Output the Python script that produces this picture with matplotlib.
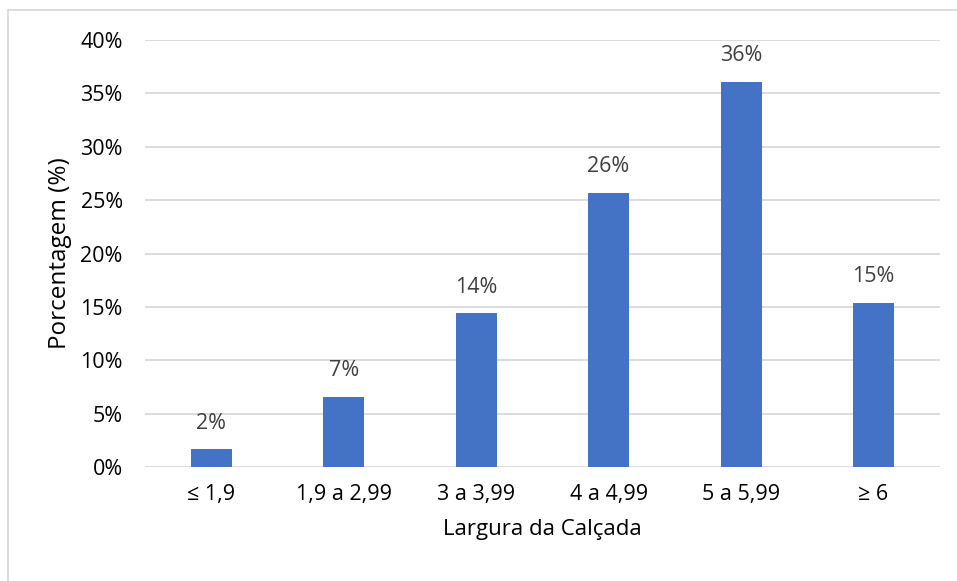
import matplotlib.pyplot as plt
from matplotlib.patches import Rectangle

categories = ["≤ 1,9", "1,9 a 2,99", "3 a 3,99", "4 a 4,99", "5 a 5,99", "≥ 6"]
values = [1.7, 6.6, 14.4, 25.7, 36.1, 15.4]
labels = ["2%", "7%", "14%", "26%", "36%", "15%"]
yticks = [0, 5, 10, 15, 20, 25, 30, 35, 40]

plt.rcParams["font.family"] = ["Open Sans", "DejaVu Sans"]

fig = plt.figure(figsize=(9.57, 5.81), dpi=100)
ax = fig.add_axes([0.1515, 0.1962, 0.8305, 0.7348])

x = range(len(categories))
bars = ax.bar(x, values, width=0.31, color="#4472C4", zorder=3)

for i, v in enumerate(values):
    ax.annotate(labels[i], (i, v), xytext=(0, 11), textcoords="offset points",
                ha="center", va="bottom", fontsize=15.5, color="#404040")

ax.set_xlim(-0.5, len(categories) - 0.5)
ax.set_ylim(0, 40)
ax.set_yticks(yticks)
ax.set_yticklabels([f"{t}%" for t in yticks])
ax.set_xticks(list(x))
ax.set_xticklabels(categories)
ax.tick_params(axis="both", length=0, labelsize=15.5, colors="#000000")
ax.tick_params(axis="y", pad=16)
ax.tick_params(axis="x", pad=12)
ax.grid(axis="y", color="#d9d9d9", linewidth=1.3, zorder=0)
for s in ax.spines.values():
    s.set_visible(False)

ax.set_xlabel("Largura da Calçada", fontsize=16, labelpad=10)
ax.set_ylabel("Porcentagem (%)", fontsize=17.5, labelpad=6)

# chart border (only left/top visible)
fig.patches.append(Rectangle((8 / 957, -0.1), 1.2, 1.1 - 10 / 581,
                             transform=fig.transFigure, fill=False,
                             edgecolor="#d9d9d9", linewidth=1.3))

fig.savefig("out.png", dpi=100)
